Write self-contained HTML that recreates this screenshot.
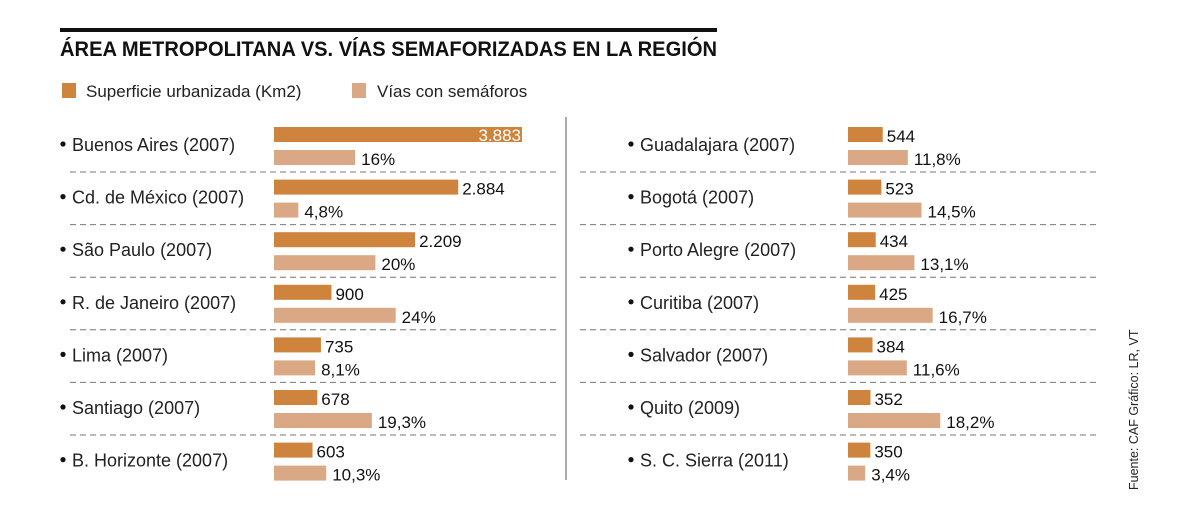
<!DOCTYPE html>
<html><head><meta charset="utf-8"><style>
body{margin:0;background:#fff;}
svg{display:block;font-family:"Liberation Sans",sans-serif;}
</style></head><body>
<svg id="c" width="1200" height="520">
<rect x="60" y="28" width="657" height="4" fill="#111"/>
<text x="60" y="56" font-size="21" font-weight="bold" fill="#111" textLength="657" lengthAdjust="spacingAndGlyphs">ÁREA METROPOLITANA VS. VÍAS SEMAFORIZADAS EN LA REGIÓN</text>
<rect x="62" y="83" width="14" height="15" fill="#CF843D"/>
<text x="86" y="97" font-size="17" fill="#222">Superficie urbanizada  (Km2)</text>
<rect x="352" y="83" width="14" height="15" fill="#DBA886"/>
<text x="377" y="97" font-size="17" fill="#222">Vías con semáforos</text>
<line x1="566" y1="117" x2="566" y2="480" stroke="#555" stroke-width="1"/>
<text transform="translate(1138,490) rotate(-90)" font-size="12.5" fill="#222">Fuente: CAF   Gráfico: LR, VT</text>
<g id="bars"></g>
</svg>
<script>
const cities = ["Buenos Aires (2007)","Cd. de México (2007)","São Paulo (2007)","R. de Janeiro (2007)","Lima (2007)","Santiago (2007)","B. Horizonte (2007)","Guadalajara (2007)","Bogotá (2007)","Porto Alegre (2007)","Curitiba (2007)","Salvador (2007)","Quito (2009)","S. C. Sierra (2011)"];
const areaValues = [3883,2884,2209,900,735,678,603,544,523,434,425,384,352,350];
const areaLabels = ["3.883","2.884","2.209","900","735","678","603","544","523","434","425","384","352","350"];
const roadValues = [16,4.8,20,24,8.1,19.3,10.3,11.8,14.5,13.1,16.7,11.6,18.2,3.4];
const roadLabels = ["16%","4,8%","20%","24%","8,1%","19,3%","10,3%","11,8%","14,5%","13,1%","16,7%","11,6%","18,2%","3,4%"];
const NS="http://www.w3.org/2000/svg";
const g=document.getElementById('bars');
const xArea=v=>v*248/3883;
const xRoad=v=>v*5.07;
function mk(tag,attrs,txt){const e=document.createElementNS(NS,tag);for(const k in attrs)e.setAttribute(k,attrs[k]);if(txt!==undefined)e.textContent=txt;g.appendChild(e);return e;}
cities.forEach((c,i)=>{
  const col=i<7?0:1, r=i%7;
  const y0=127+r*52.6;
  const bx=col?848:274;
  const lx=col?628:60;
  let e=mk('circle',{cx:lx+3,cy:y0+17,r:2.6,fill:'#111'});
  
  
  e=mk('text',{x:lx+12,y:y0+24,'font-size':18,fill:'#222'},c);
  
  
  const wa=xArea(areaValues[i]);
  e=mk('rect',{x:bx,y:y0,width:wa,height:15,fill:'#CF843D'});
  
  
  if(wa>200){
    e=mk('text',{x:bx+wa-1,y:y0+14,'font-size':17,fill:'#fff','text-anchor':'end'},areaLabels[i]);
  } else {
    e=mk('text',{x:bx+wa+4,y:y0+15,'font-size':17,fill:'#111'},areaLabels[i]);
  }
  
  
  const wr=xRoad(roadValues[i]);
  e=mk('rect',{x:bx,y:y0+23,width:wr,height:15,fill:'#DBA886'});
  
  
  e=mk('text',{x:bx+wr+6,y:y0+38,'font-size':17,fill:'#111'},roadLabels[i]);
  
  
  if(r<6){
    e=mk('line',{x1:col?580:70,x2:col?1100:556,y1:y0+45,y2:y0+45,stroke:'#777','stroke-width':1,'stroke-dasharray':'6,4'});
    
    
  }
});
</script>
</body></html>
